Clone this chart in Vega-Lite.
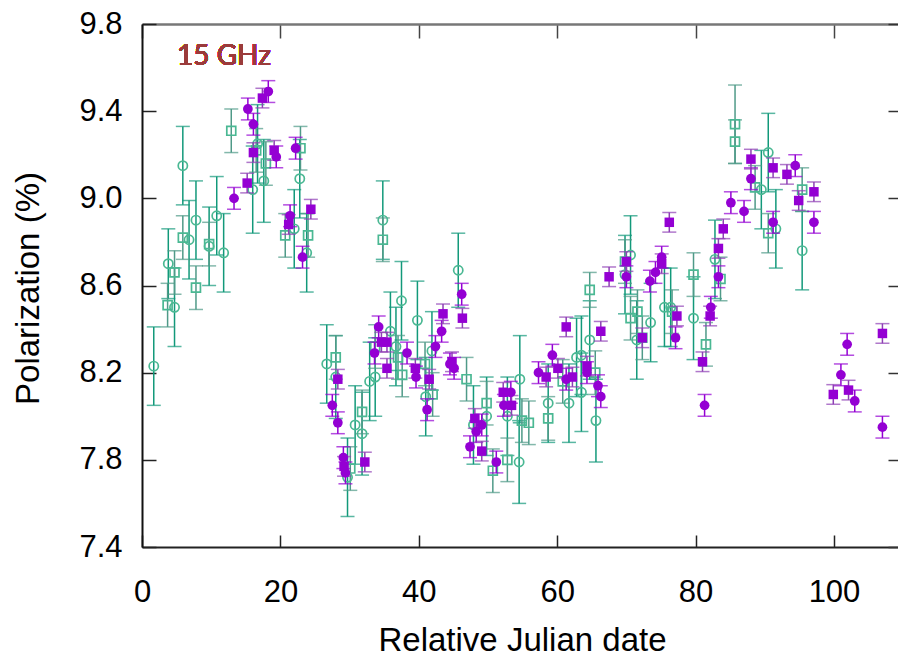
{
  "$schema": "https://vega.github.io/schema/vega-lite/v6.json",
  "width": 756,
  "height": 523,
  "autosize": {"type": "none"},
  "padding": {"left": 142, "top": 24, "right": 0, "bottom": 111},
  "background": "white",
  "config": {"view": {"stroke": null}},
  "data": {"values": [
    {"s":"oc","t":1.7,"p":8.23,"e":0.18},{"s":"oc","t":3.8,"p":8.70,"e":0.16},{"s":"oc","t":4.7,"p":8.50,"e":0.18},{"s":"oc","t":5.9,"p":9.15,"e":0.18},{"s":"oc","t":6.8,"p":8.81,"e":0.18},{"s":"oc","t":7.8,"p":8.90,"e":0.18},{"s":"oc","t":9.7,"p":8.78,"e":0.18},{"s":"oc","t":10.8,"p":8.92,"e":0.18},{"s":"oc","t":11.8,"p":8.75,"e":0.18},{"s":"oc","t":16.0,"p":9.04,"e":0.2},{"s":"oc","t":16.7,"p":9.25,"e":0.18},{"s":"oc","t":17.6,"p":9.08,"e":0.19},{"s":"oc","t":22.0,"p":8.86,"e":0.18},{"s":"oc","t":22.8,"p":9.09,"e":0.18},{"s":"oc","t":23.8,"p":8.75,"e":0.18},{"s":"oc","t":26.7,"p":8.24,"e":0.18},{"s":"oc","t":28.0,"p":8.18,"e":0.19},{"s":"oc","t":29.7,"p":7.72,"e":0.18},{"s":"oc","t":30.8,"p":7.96,"e":0.18},{"s":"oc","t":31.8,"p":7.92,"e":0.19},{"s":"oc","t":32.9,"p":8.16,"e":0.18},{"s":"oc","t":33.7,"p":8.18,"e":0.18},{"s":"oc","t":34.8,"p":8.90,"e":0.18},{"s":"oc","t":35.9,"p":8.39,"e":0.18},{"s":"oc","t":36.7,"p":8.32,"e":0.18},{"s":"oc","t":37.5,"p":8.53,"e":0.18},{"s":"oc","t":39.8,"p":8.44,"e":0.18},{"s":"oc","t":41.0,"p":8.09,"e":0.18},{"s":"oc","t":41.9,"p":8.30,"e":0.18},{"s":"oc","t":45.7,"p":8.67,"e":0.17},{"s":"oc","t":47.9,"p":7.96,"e":0.18},{"s":"oc","t":49.8,"p":8.00,"e":0.18},{"s":"oc","t":52.8,"p":8.00,"e":0.18},{"s":"oc","t":54.6,"p":8.17,"e":0.2},{"s":"oc","t":54.5,"p":7.79,"e":0.19},{"s":"oc","t":58.7,"p":8.06,"e":0.18},{"s":"oc","t":61.7,"p":8.06,"e":0.18},{"s":"oc","t":62.8,"p":8.27,"e":0.18},{"s":"oc","t":63.5,"p":8.28,"e":0.18},{"s":"oc","t":63.5,"p":8.11,"e":0.18},{"s":"oc","t":64.7,"p":8.35,"e":0.18},{"s":"oc","t":65.6,"p":7.98,"e":0.19},{"s":"oc","t":69.8,"p":8.65,"e":0.18},{"s":"oc","t":70.6,"p":8.74,"e":0.18},{"s":"oc","t":71.5,"p":8.35,"e":0.18},{"s":"oc","t":73.5,"p":8.43,"e":0.18},{"s":"oc","t":75.5,"p":8.50,"e":0.18},{"s":"oc","t":76.4,"p":8.50,"e":0.18},{"s":"oc","t":79.7,"p":8.45,"e":0.19},{"s":"oc","t":82.8,"p":8.72,"e":0.18},{"s":"oc","t":89.5,"p":9.04,"e":0.18},{"s":"oc","t":90.5,"p":9.21,"e":0.18},{"s":"oc","t":91.6,"p":8.86,"e":0.18},{"s":"oc","t":95.4,"p":8.76,"e":0.18},
    {"s":"os","t":3.7,"p":8.51,"e":0.1},{"s":"os","t":4.7,"p":8.66,"e":0.1},{"s":"os","t":5.9,"p":8.82,"e":0.1},{"s":"os","t":7.8,"p":8.59,"e":0.1},{"s":"os","t":9.7,"p":8.79,"e":0.1},{"s":"os","t":12.9,"p":9.31,"e":0.1},{"s":"os","t":16.5,"p":9.22,"e":0.1},{"s":"os","t":17.9,"p":9.16,"e":0.1},{"s":"os","t":20.7,"p":8.83,"e":0.1},{"s":"os","t":22.9,"p":9.23,"e":0.1},{"s":"os","t":24.0,"p":8.83,"e":0.1},{"s":"os","t":28.0,"p":8.27,"e":0.1},{"s":"os","t":30.1,"p":7.76,"e":0.1},{"s":"os","t":31.8,"p":8.02,"e":0.1},{"s":"os","t":33.7,"p":8.32,"e":0.1},{"s":"os","t":34.8,"p":8.81,"e":0.1},{"s":"os","t":37.0,"p":8.27,"e":0.1},{"s":"os","t":37.6,"p":8.19,"e":0.1},{"s":"os","t":40.9,"p":8.24,"e":0.1},{"s":"os","t":42.0,"p":8.10,"e":0.1},{"s":"os","t":46.9,"p":8.17,"e":0.1},{"s":"os","t":49.8,"p":8.06,"e":0.1},{"s":"os","t":50.7,"p":7.75,"e":0.1},{"s":"os","t":52.8,"p":7.80,"e":0.1},{"s":"os","t":54.9,"p":7.98,"e":0.1},{"s":"os","t":55.9,"p":7.97,"e":0.1},{"s":"os","t":58.7,"p":7.99,"e":0.1},{"s":"os","t":60.8,"p":8.16,"e":0.1},{"s":"os","t":64.7,"p":8.58,"e":0.08},{"s":"os","t":65.5,"p":8.20,"e":0.1},{"s":"os","t":69.8,"p":8.71,"e":0.1},{"s":"os","t":70.6,"p":8.45,"e":0.1},{"s":"os","t":71.6,"p":8.48,"e":0.1},{"s":"os","t":72.3,"p":8.36,"e":0.1},{"s":"os","t":76.6,"p":8.48,"e":0.1},{"s":"os","t":79.7,"p":8.65,"e":0.1},{"s":"os","t":81.5,"p":8.33,"e":0.1},{"s":"os","t":83.6,"p":8.63,"e":0.1},{"s":"os","t":85.7,"p":9.34,"e":0.18},{"s":"os","t":85.7,"p":9.26,"e":0.1},{"s":"os","t":88.6,"p":9.05,"e":0.1},{"s":"os","t":90.5,"p":8.84,"e":0.09},{"s":"os","t":95.4,"p":9.04,"e":0.1},
    {"s":"fc","t":13.3,"p":9.00,"e":0.05},{"s":"fc","t":15.3,"p":9.41,"e":0.05},{"s":"fc","t":16.1,"p":9.34,"e":0.05},{"s":"fc","t":18.25,"p":9.49,"e":0.05},{"s":"fc","t":19.4,"p":9.19,"e":0.05},{"s":"fc","t":21.4,"p":8.92,"e":0.05},{"s":"fc","t":22.2,"p":9.23,"e":0.05},{"s":"fc","t":23.2,"p":8.73,"e":0.05},{"s":"fc","t":27.5,"p":8.05,"e":0.05},{"s":"fc","t":28.3,"p":7.97,"e":0.05},{"s":"fc","t":29.1,"p":7.81,"e":0.05},{"s":"fc","t":29.4,"p":7.74,"e":0.05},{"s":"fc","t":33.6,"p":8.29,"e":0.05},{"s":"fc","t":34.2,"p":8.41,"e":0.05},{"s":"fc","t":38.3,"p":8.29,"e":0.05},{"s":"fc","t":39.6,"p":8.18,"e":0.05},{"s":"fc","t":41.2,"p":8.03,"e":0.05},{"s":"fc","t":42.4,"p":8.32,"e":0.05},{"s":"fc","t":43.3,"p":8.39,"e":0.05},{"s":"fc","t":44.5,"p":8.24,"e":0.05},{"s":"fc","t":45.1,"p":8.22,"e":0.05},{"s":"fc","t":46.2,"p":8.56,"e":0.05},{"s":"fc","t":47.4,"p":7.86,"e":0.05},{"s":"fc","t":48.3,"p":7.93,"e":0.05},{"s":"fc","t":49.1,"p":7.96,"e":0.05},{"s":"fc","t":51.2,"p":7.79,"e":0.05},{"s":"fc","t":52.3,"p":8.05,"e":0.05},{"s":"fc","t":53.3,"p":8.11,"e":0.05},{"s":"fc","t":57.3,"p":8.20,"e":0.05},{"s":"fc","t":59.3,"p":8.28,"e":0.05},{"s":"fc","t":61.3,"p":8.17,"e":0.05},{"s":"fc","t":64.3,"p":8.20,"e":0.05},{"s":"fc","t":65.9,"p":8.14,"e":0.05},{"s":"fc","t":66.3,"p":8.09,"e":0.05},{"s":"fc","t":70.0,"p":8.64,"e":0.05},{"s":"fc","t":73.4,"p":8.62,"e":0.05},{"s":"fc","t":74.2,"p":8.66,"e":0.05},{"s":"fc","t":75.1,"p":8.73,"e":0.05},{"s":"fc","t":77.1,"p":8.36,"e":0.05},{"s":"fc","t":81.3,"p":8.05,"e":0.05},{"s":"fc","t":82.2,"p":8.50,"e":0.05},{"s":"fc","t":83.3,"p":8.64,"e":0.05},{"s":"fc","t":85.1,"p":8.98,"e":0.05},{"s":"fc","t":87.0,"p":8.94,"e":0.05},{"s":"fc","t":88.0,"p":9.09,"e":0.05},{"s":"fc","t":91.2,"p":8.89,"e":0.05},{"s":"fc","t":94.4,"p":9.15,"e":0.05},{"s":"fc","t":97.1,"p":8.89,"e":0.05},{"s":"fc","t":101.0,"p":8.19,"e":0.05},{"s":"fc","t":101.9,"p":8.33,"e":0.05},{"s":"fc","t":103.0,"p":8.07,"e":0.05},{"s":"fc","t":107.0,"p":7.95,"e":0.05},
    {"s":"fs","t":15.2,"p":9.07,"e":0.045},{"s":"fs","t":16.1,"p":9.21,"e":0.045},{"s":"fs","t":17.4,"p":9.46,"e":0.045},{"s":"fs","t":19.1,"p":9.22,"e":0.045},{"s":"fs","t":21.2,"p":8.88,"e":0.045},{"s":"fs","t":24.4,"p":8.95,"e":0.045},{"s":"fs","t":28.3,"p":8.17,"e":0.045},{"s":"fs","t":29.2,"p":7.77,"e":0.045},{"s":"fs","t":32.2,"p":7.79,"e":0.045},{"s":"fs","t":34.6,"p":8.34,"e":0.045},{"s":"fs","t":35.4,"p":8.34,"e":0.045},{"s":"fs","t":35.4,"p":8.22,"e":0.045},{"s":"fs","t":39.5,"p":8.22,"e":0.045},{"s":"fs","t":41.5,"p":8.17,"e":0.045},{"s":"fs","t":43.5,"p":8.47,"e":0.045},{"s":"fs","t":44.8,"p":8.25,"e":0.045},{"s":"fs","t":46.3,"p":8.45,"e":0.045},{"s":"fs","t":48.1,"p":7.99,"e":0.045},{"s":"fs","t":49.1,"p":7.84,"e":0.045},{"s":"fs","t":52.2,"p":8.11,"e":0.045},{"s":"fs","t":53.4,"p":8.05,"e":0.045},{"s":"fs","t":58.4,"p":8.18,"e":0.045},{"s":"fs","t":60.1,"p":8.22,"e":0.045},{"s":"fs","t":61.3,"p":8.41,"e":0.045},{"s":"fs","t":62.2,"p":8.18,"e":0.045},{"s":"fs","t":64.3,"p":8.23,"e":0.045},{"s":"fs","t":66.3,"p":8.39,"e":0.045},{"s":"fs","t":67.5,"p":8.64,"e":0.045},{"s":"fs","t":70.0,"p":8.71,"e":0.045},{"s":"fs","t":72.3,"p":8.36,"e":0.045},{"s":"fs","t":75.1,"p":8.70,"e":0.045},{"s":"fs","t":76.2,"p":8.89,"e":0.045},{"s":"fs","t":77.3,"p":8.46,"e":0.045},{"s":"fs","t":81.0,"p":8.25,"e":0.045},{"s":"fs","t":82.1,"p":8.46,"e":0.045},{"s":"fs","t":83.3,"p":8.77,"e":0.045},{"s":"fs","t":84.0,"p":8.86,"e":0.045},{"s":"fs","t":88.0,"p":9.18,"e":0.045},{"s":"fs","t":91.2,"p":9.14,"e":0.045},{"s":"fs","t":93.2,"p":9.11,"e":0.045},{"s":"fs","t":94.9,"p":8.99,"e":0.045},{"s":"fs","t":97.1,"p":9.03,"e":0.045},{"s":"fs","t":99.9,"p":8.10,"e":0.045},{"s":"fs","t":102.1,"p":8.12,"e":0.045},{"s":"fs","t":107.0,"p":8.38,"e":0.045}
  ]},
  "encoding": {
    "x": {"field": "t", "type": "quantitative", "scale": {"domain": [0, 109.25], "nice": false, "zero": false}, "axis": null},
    "y": {"field": "p", "type": "quantitative", "scale": {"domain": [7.4, 9.8], "nice": false, "zero": false}, "axis": null}
  },
  "layer": [
    {"transform": [{"filter": "datum.s === 'oc'"}], "mark": {"type": "errorbar", "ticks": true, "size": 14, "thickness": 1.5, "color": "#12997a"}, "encoding": {"yError": {"field": "e"}}},
    {"transform": [{"filter": "datum.s === 'os'"}], "mark": {"type": "errorbar", "ticks": true, "size": 14, "thickness": 1.5, "color": "#4f9a88"}, "encoding": {"yError": {"field": "e"}}},
    {"transform": [{"filter": "datum.s === 'oc'"}], "mark": {"type": "point", "shape": "circle", "filled": false, "size": 85, "strokeWidth": 1.7, "color": "#4ab893", "opacity": 1},
     "encoding": {
       "x": {"field": "t", "type": "quantitative", "scale": {"domain": [0, 109.25], "nice": false, "zero": false},
             "axis": {"orient": "bottom", "values": [0, 20, 40, 60, 80, 100], "title": "Relative Julian date", "tickSize": -12, "tickWidth": 1.5, "tickColor": "#222", "domainColor": "#222", "domainWidth": 2, "labelFont": "Liberation Sans", "labelFontSize": 31, "labelColor": "#000", "labelPadding": 42, "labelFlush": false, "labelOverlap": false, "titleFont": "Liberation Sans", "titleFontSize": 33, "titleFontWeight": "normal", "titleColor": "#000", "titleX": 380, "titleY": 93, "titleBaseline": "middle", "titleAlign": "center", "grid": false}},
       "y": {"field": "p", "type": "quantitative", "scale": {"domain": [7.4, 9.8], "nice": false, "zero": false},
             "axis": {"orient": "left", "values": [7.4, 7.8, 8.2, 8.6, 9.0, 9.4, 9.8], "format": ".1f", "title": "Polarization (%)", "tickSize": -14, "tickWidth": 1.5, "tickColor": "#222", "domainColor": "#111", "domainWidth": 2, "labelFont": "Liberation Sans", "labelFontSize": 31, "labelColor": "#000", "labelPadding": 34, "labelFlush": false, "labelOverlap": false, "titleFont": "Liberation Sans", "titleFontSize": 33, "titleFontWeight": "normal", "titleColor": "#000", "titleX": -114, "titleY": 264, "titleAngle": 270, "titleBaseline": "middle", "titleAlign": "center", "grid": false}}
     }},
    {"transform": [{"filter": "datum.s === 'os'"}], "mark": {"type": "point", "shape": "square", "filled": false, "size": 80, "strokeWidth": 1.7, "color": "#4ab893", "opacity": 1},
     "encoding": {
       "x": {"field": "t", "type": "quantitative", "scale": {"domain": [0, 109.25], "nice": false, "zero": false},
             "axis": {"orient": "top", "values": [0, 20, 40, 60, 80, 100], "labels": false, "title": null, "tickSize": -14, "tickWidth": 1.5, "tickColor": "#444", "domainColor": "#777", "domainWidth": 2.5, "grid": false}},
       "y": {"field": "p", "type": "quantitative", "scale": {"domain": [7.4, 9.8], "nice": false, "zero": false},
             "axis": {"orient": "right", "values": [7.4, 7.8, 8.2, 8.6, 9.0, 9.4, 9.8], "labels": false, "title": null, "tickSize": -10, "tickWidth": 1.5, "tickColor": "#333", "domain": false, "grid": false}}
     }},
    {"transform": [{"filter": "datum.s === 'fc'"}], "mark": {"type": "errorbar", "ticks": true, "size": 14, "thickness": 1.5, "color": "#9400D3"}, "encoding": {"yError": {"field": "e"}}},
    {"transform": [{"filter": "datum.s === 'fs'"}], "mark": {"type": "errorbar", "ticks": true, "size": 14, "thickness": 1.5, "color": "#8e3fb5"}, "encoding": {"yError": {"field": "e"}}},
    {"transform": [{"filter": "datum.s === 'fc'"}], "mark": {"type": "point", "shape": "circle", "filled": true, "size": 95, "color": "#9400D3", "opacity": 1}},
    {"transform": [{"filter": "datum.s === 'fs'"}], "mark": {"type": "point", "shape": "square", "filled": true, "size": 90, "color": "#9400D3", "opacity": 1}},
    {"mark": {"type": "text", "align": "left", "baseline": "alphabetic", "font": "Lato", "fontSize": 28, "fontWeight": "normal", "color": "#9B3B3B"},
     "encoding": {
       "x": {"datum": 5.06, "type": "quantitative", "axis": null},
       "y": {"datum": 9.612, "type": "quantitative", "axis": null},
       "text": {"value": "15 GHz"}
     }}
  ],
  "resolve": {"axis": {"x": "independent", "y": "independent"}}
}
